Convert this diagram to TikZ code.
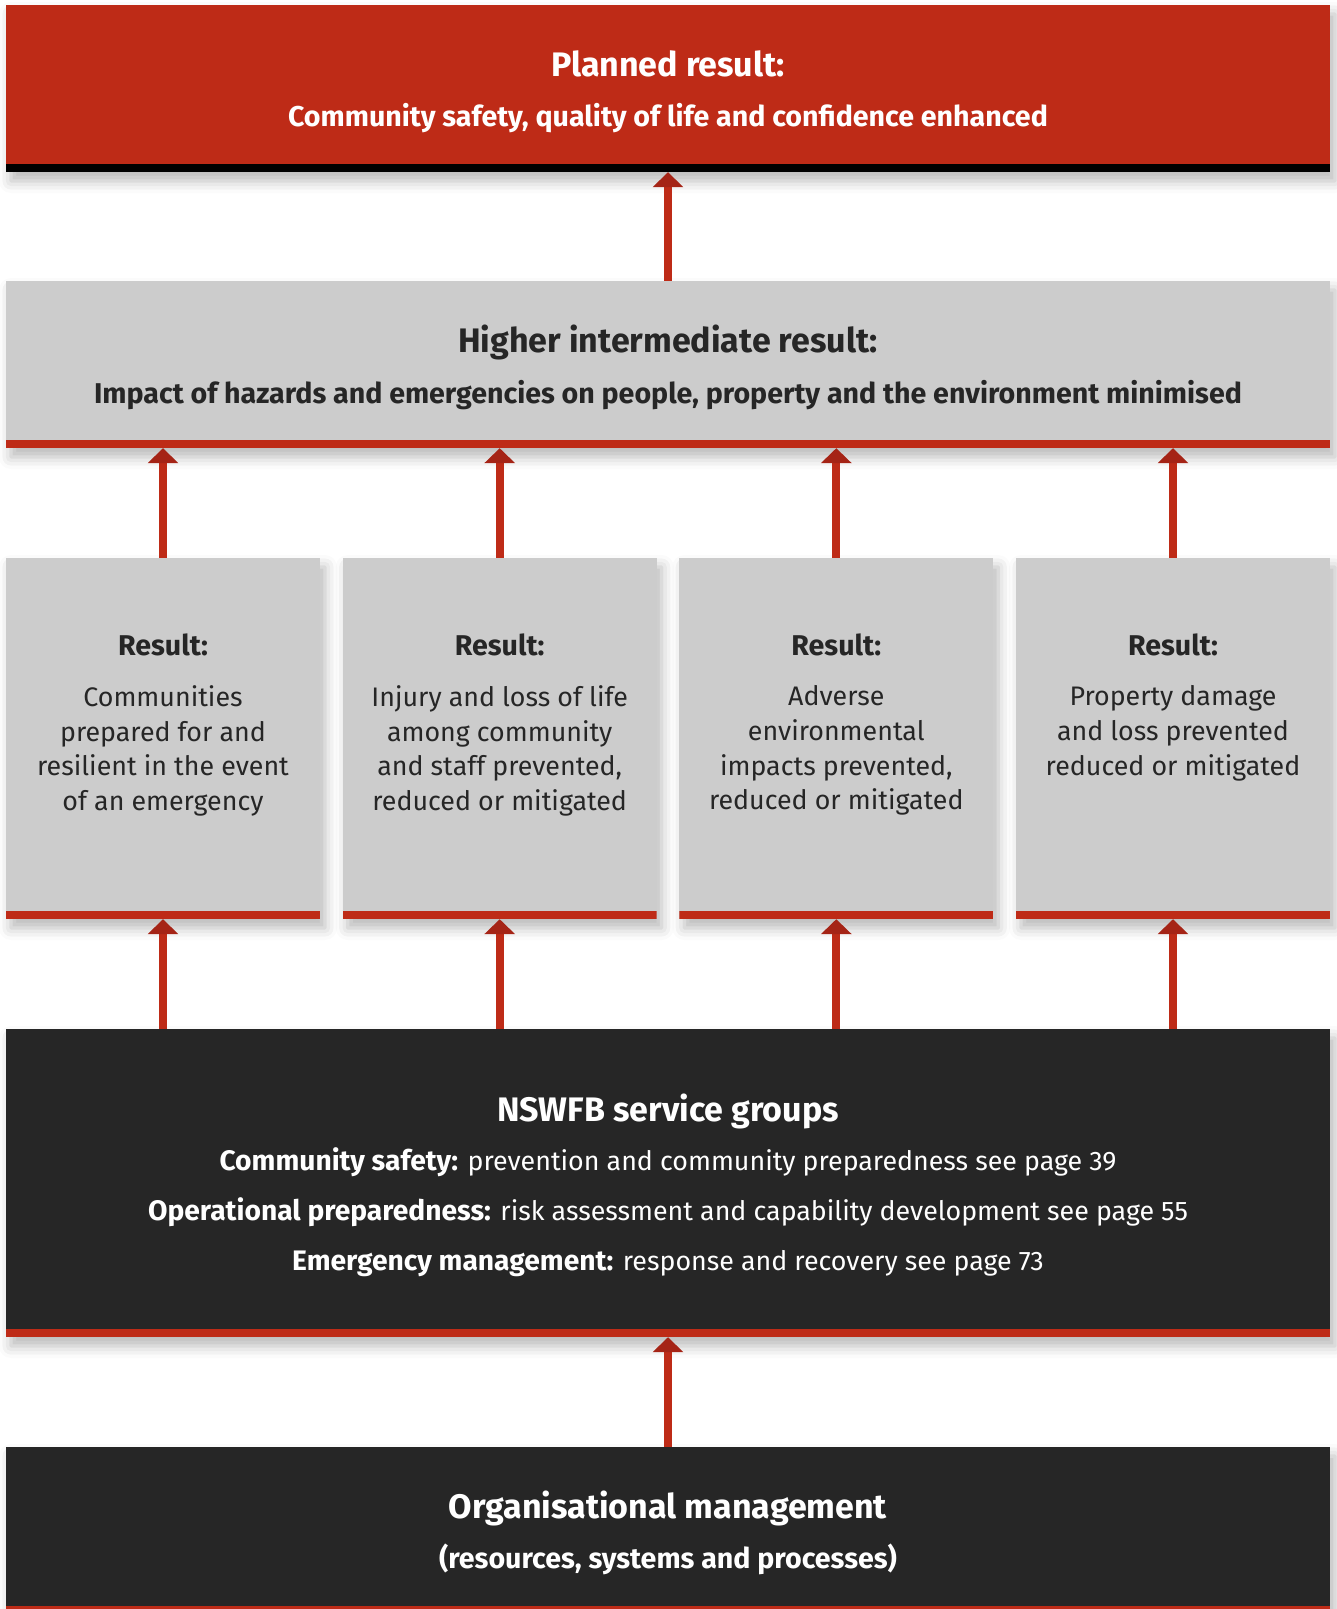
\documentclass[tikz,border=0pt]{standalone}
\usepackage{fontspec}
\setmainfont{Fira Sans}
\usetikzlibrary{arrows.meta,shadows.blur}
\definecolor{nswred}{RGB}{190,43,23}
\definecolor{arrowred}{RGB}{165,36,22}
\definecolor{boxgrey}{RGB}{204,204,204}
\definecolor{boxdark}{RGB}{38,38,38}
\definecolor{textdark}{RGB}{38,38,38}
\newcommand{\headfont}{\bfseries\fontsize{34}{40}\selectfont}
\newcommand{\subfont}{\bfseries\fontsize{28.6}{35}\selectfont}
\newcommand{\bodyfont}{\fontsize{26.8}{34.7}\selectfont}
\newcommand{\lead}[1]{{\fontsize{28.2}{35}\selectfont\bfseries #1}}
\tikzset{
  panel/.style={rectangle, inner sep=0pt, minimum width=1324pt,
    blur shadow={shadow xshift=5pt, shadow yshift=-9pt,
      shadow blur radius=12pt, shadow opacity=28}},
  stripe/.style={path picture={\fill[#1] ([yshift=8pt]path picture bounding box.south west)
    rectangle (path picture bounding box.south east);}},
  redpanel/.style={panel, fill=nswred, minimum height=167pt, stripe=black},
  greypanel/.style={panel, fill=boxgrey, minimum height=167pt, stripe=nswred},
  resultpanel/.style={panel, fill=boxgrey, minimum width=314pt, minimum height=361pt, stripe=nswred},
  darkpanel/.style={panel, fill=boxdark, stripe=nswred},
  lighttext/.style={anchor=base, text=white},
  darktext/.style={anchor=base, text=textdark},
  uparrow/.style={draw=nswred, line width=8pt, -{Triangle[width=30pt,length=15pt,color=arrowred]}}
}
\begin{document}
\begin{tikzpicture}[x=1pt,y=-1pt]
  \useasboundingbox (0,0) rectangle (1337,1609);
  \clip (0,0) rectangle (1337,1609);
  % boxes
  \node[redpanel] (planned) at (668,88.5) {};
  \node[greypanel] (higher) at (668,364.5) {};
  \node[resultpanel] (res1) at (163,738.5) {};
  \node[resultpanel] (res2) at (499.7,738.5) {};
  \node[resultpanel] (res3) at (836.3,738.5) {};
  \node[resultpanel] (res4) at (1173,738.5) {};
  \node[darkpanel, minimum height=308pt] (groups) at (668,1183) {};
  \node[darkpanel, minimum height=167pt] (orgman) at (668,1530.5) {};
  % texts
  \node[lighttext, font=\headfont] (plannedhead) at (668,76.5) {Planned result:};
  \node[lighttext, font=\subfont] (plannedsub) at (668,126.5)
    {Community safety, quality of life and confidence enhanced};
  \node[darktext, font=\headfont] (higherhead) at (668,352.5) {Higher intermediate result:};
  \node[darktext, font=\subfont] (highersub) at (668,403.5)
    {Impact of hazards and emergencies on people, property and the environment minimised};
  \foreach \r in {res1,res2,res3,res4}
    \node[darktext, font=\subfont] (\r head) at (\r.center |- 0,655) {Result:};
  \node[darktext, anchor=north, align=center, font=\bodyfont] (res1text) at (163,682)
    {Communities\\prepared for and\\resilient in the event\\of an emergency};
  \node[darktext, anchor=north, align=center, font=\bodyfont] (res2text) at (499.7,682)
    {Injury and loss of life\\among community\\and staff prevented,\\reduced or mitigated};
  \node[darktext, anchor=north, align=center, font=\bodyfont] (res3text) at (836.3,682)
    {Adverse\\environmental\\impacts prevented,\\reduced or mitigated};
  \node[darktext, anchor=north, align=center, font=\bodyfont] (res4text) at (1173,682)
    {Property damage\\and loss prevented\\reduced or mitigated};
  \node[lighttext, font=\headfont] (groupshead) at (668,1121.5) {NSWFB service groups};
  \node[lighttext, font=\bodyfont] (groupsone) at (668,1170)
    {\lead{Community safety:} prevention and community preparedness see page 39};
  \node[lighttext, font=\bodyfont] (groupstwo) at (668,1220.5)
    {\lead{Operational preparedness:} risk assessment and capability development see page 55};
  \node[lighttext, font=\bodyfont] (groupsthree) at (668,1270.5)
    {\lead{Emergency management:} response and recovery see page 73};
  \node[lighttext, font=\headfont] (orgmanhead) at (668,1518) {Organisational management};
  \node[lighttext, font=\subfont] (orgmansub) at (668,1568) {(resources, systems and processes)};
  % arrows
  \draw[uparrow] (higher.north) -- (planned.south);
  \foreach \r in {res1,res2,res3,res4} {
    \draw[uparrow] (\r.north) -- (\r.north |- higher.south);
    \draw[uparrow] (\r.south |- groups.north) -- (\r.south);
  }
  \draw[uparrow] (orgman.north) -- (groups.south);
\end{tikzpicture}
\end{document}
